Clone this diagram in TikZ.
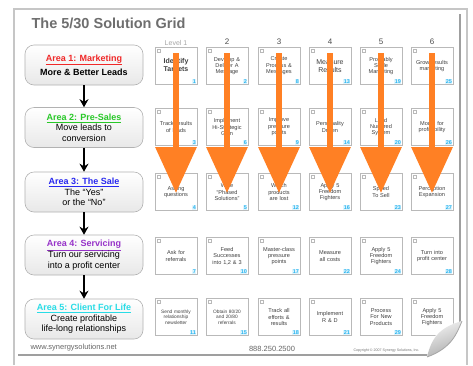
\documentclass[tikz,border=0pt]{standalone}
\usepackage{fontspec}
\setmainfont{Liberation Sans}
\usetikzlibrary{arrows.meta}
\hyphenpenalty=10000
\exhyphenpenalty=10000
\definecolor{arrorange}{RGB}{255,128,36}
\definecolor{aone}{RGB}{240,40,40}
\definecolor{atwo}{RGB}{40,200,40}
\definecolor{athree}{RGB}{40,40,240}
\definecolor{afour}{RGB}{150,50,200}
\definecolor{afive}{RGB}{40,220,230}
\definecolor{numcyan}{RGB}{40,180,240}
\definecolor{titlegray}{RGB}{110,110,110}
\newcommand{\gridcell}[6][\fontsize{5.6}{6.4}\selectfont]{%
  \node[cell,font=#1] (#2) at (#3,#4) {#5};
  \node[num] at ([xshift=-0.6pt,yshift=0.6pt]#2.south east) {#6};
  \draw[gray!55,line width=0.3pt] ([xshift=2pt,yshift=-2pt]#2.north west) rectangle ++(3pt,-3pt);
}
\begin{document}
\begin{tikzpicture}[x=1pt,y=-1pt,
  area/.style={draw=gray!60, line width=0.6pt, rounded corners=9pt, minimum width=118pt, minimum height=40pt,
    top color=white, bottom color=gray!18, align=center, font=\fontsize{9}{10.4}\selectfont, inner sep=1pt},
  cell/.style={draw=gray!55, line width=0.5pt, minimum width=42pt, minimum height=37pt, text width=35pt,
    align=center, text=black!75, inner sep=1pt},
  num/.style={anchor=south east, text=numcyan, fill=cyan!12, inner sep=0.5pt, font=\fontsize{5.5}{5.5}\selectfont\bfseries},
  hdr/.style={font=\fontsize{8}{8}\selectfont, text=black!70},
  bigarrow/.style={draw=arrorange, line width=6.5pt, -{Triangle[width=40pt,length=46pt]}},
  flow/.style={line width=1.4pt, -{Stealth[length=8pt,width=9pt]}},
  foot/.style={text=black!60, font=\fontsize{7.5}{8}\selectfont}]
\useasboundingbox (0,0) rectangle (473,365);
\fill[white] (0,0) rectangle (473,365);
% outer frame and page
\draw[gray!45, line width=1.5pt] (14,365) -- (14,9) -- (467,9) -- (467,365);
\draw[gray!75, line width=2pt] (460,14) -- (460,322);
\draw[gray!75, line width=2.5pt] (18,355) -- (430,355);
% title
\node[anchor=west, text=titlegray, font=\fontsize{14.5}{15}\selectfont\bfseries] (title) at (28,23) {The 5/30 Solution Grid};
% area boxes
\node[area] (a1) at (84,65) {\textcolor{aone}{\bfseries\underline{Area 1: Marketing}}\\[3pt]\bfseries More \& Better Leads};
\node[area] (a2) at (84,127.5) {\textcolor{atwo}{\bfseries\underline{Area 2: Pre-Sales}}\\Move leads to\\conversion};
\node[area] (a3) at (84,192) {\textcolor{athree}{\bfseries\underline{Area 3: The Sale}}\\The ``Yes''\\or the ``No''};
\node[area] (a4) at (84,255) {\textcolor{afour}{\bfseries\underline{Area 4: Servicing}}\\Turn our servicing\\into a profit center};
\node[area] (a5) at (84,319) {\textcolor{afive}{\bfseries\underline{Area 5: Client For Life}}\\Create profitable\\life-long relationships};
\draw[flow] (a1) -- (a2);
\draw[flow] (a2) -- (a3);
\draw[flow] (a3) -- (a4);
\draw[flow] (a4) -- (a5);
% column headers
\node[hdr, text=black!35, font=\fontsize{7}{7}\selectfont] (h1) at (176,43) {Level 1};
\node[hdr] (h2) at (227,42) {2};
\node[hdr] (h3) at (279,42) {3};
\node[hdr] (h4) at (330,42) {4};
\node[hdr] (h5) at (381,42) {5};
\node[hdr] (h6) at (432,42) {6};
% row 1
\gridcell[\fontsize{7}{8}\selectfont\bfseries]{c11}{176}{66}{Identify\\Targets}{1}
\gridcell{c12}{227}{66}{Develop \& Deliver A Message}{2}
\gridcell{c13}{279}{66}{Create Process \& Messages}{8}
\gridcell[\fontsize{7}{8}\selectfont]{c14}{330}{66}{Measure Results}{13}
\gridcell{c15}{381}{66}{Profitably Scale Marketing}{19}
\gridcell{c16}{432}{66}{Grow results marketing}{25}
% row 2
\gridcell{c21}{176}{127}{Track results of leads}{3}
\gridcell{c22}{227}{127}{Implement Hi-Strategic Gain}{6}
\gridcell{c23}{279}{127}{Improve pressure points}{9}
\gridcell{c24}{330}{127}{Personality Driven}{14}
\gridcell{c25}{381}{127}{Lead Nurtured System}{20}
\gridcell{c26}{432}{127}{Model for profitability}{26}
% row 3
\gridcell{c31}{176}{192}{Asking questions}{4}
\gridcell{c32}{227}{192}{Wise ``Phased Solutions''}{5}
\gridcell{c33}{279}{192}{Which products are lost}{12}
\gridcell{c34}{330}{192}{Apply 5 Freedom Fighters}{16}
\gridcell{c35}{381}{192}{Speed To Sell}{23}
\gridcell{c36}{432}{192}{Perception Expansion}{27}
% row 4
\gridcell{c41}{176}{256}{Ask for referrals}{7}
\gridcell{c42}{227}{256}{Feed Successes into 1,2 \& 3}{10}
\gridcell{c43}{279}{256}{Master-class pressure points}{17}
\gridcell{c44}{330}{256}{Measure all costs}{22}
\gridcell{c45}{381}{256}{Apply 5 Freedom Fighters}{24}
\gridcell{c46}{432}{256}{Turn into profit center}{28}
% row 5
\gridcell[\fontsize{4.8}{5.6}\selectfont]{c51}{176}{317}{Send monthly relationship newsletter}{11}
\gridcell[\fontsize{4.8}{5.6}\selectfont]{c52}{227}{317}{Obtain 80/20 and 20/80 referrals}{15}
\gridcell{c53}{279}{317}{Track all efforts \& results}{18}
\gridcell{c54}{330}{317}{Implement R \& D}{21}
\gridcell{c55}{381}{317}{Process For New Products}{29}
\gridcell{c56}{432}{317}{Apply 5 Freedom Fighters}{30}
% orange arrows
\foreach \c in {1,...,6}{
  \coordinate (s\c) at ([yshift=-6pt]c1\c.north);
  \draw[bigarrow] (s\c) -- ([yshift=-1pt]c3\c.center);
}
% footer
\node[foot, anchor=west] (web) at (27,348) {www.synergysolutions.net};
\node[foot] (phone) at (272,349) {888.250.2500};
\node[anchor=west, text=black!55, font=\fontsize{3.6}{4}\selectfont] (copy) at (350,351) {Copyright \copyright\ 2007 Synergy Solutions, Inc.};
% page curl
\fill[white] (427,358) -- (427,356) .. controls (432,335) and (440,326) .. (463,321) -- (470,321) -- (470,365) -- (427,365) -- cycle;
\draw[gray!45, line width=1.5pt] (467,321) -- (467,365);
\shade[top color=gray!10, bottom color=gray!65, shading angle=20]
  (427,357) .. controls (432,336) and (441,327) .. (462,321)
  .. controls (457,333) and (452,348) .. (427,357) -- cycle;
\draw[gray!70, line width=0.8pt] (462,321) .. controls (457,333) and (452,348) .. (427,357);
\end{tikzpicture}
\end{document}
